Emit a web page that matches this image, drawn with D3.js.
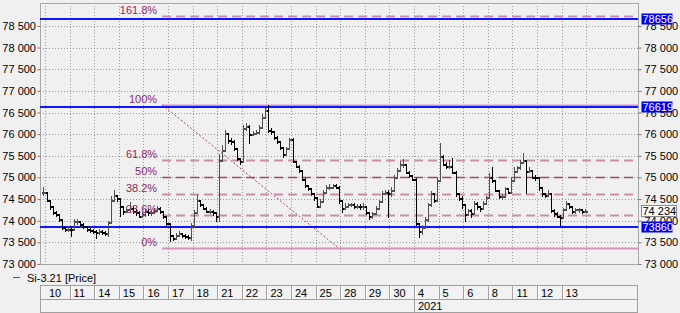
<!DOCTYPE html>
<html>
<head>
<meta charset="utf-8">
<script src="https://cdn.jsdelivr.net/npm/d3@7"></script>
<style>
  body { margin: 0; background: #f0f0f0; }
  svg { display: block; font-family: "Liberation Sans", Arial, sans-serif; }
</style>
</head>
<body>
<div id="chart"></div>
<script>
// trading days shown on the time axis (Dec 2020 .. Jan 2021)
const days = ['10', '11', '14', '15', '16', '17', '18', '21', '22', '23', '24', '25', '28', '29', '30',
  '4', '5', '6', '8', '11', '12', '13'];
const yearStartDay = 15;
const yearLabel = '2021';
const barsPerDay = 8;

// intraday bars, first one is the tail of the previous day
const close = [
  74675,
  74490, 74330, 74190, 74145, 74030, 73850, 73800, 73820,
  73800, 73985, 73985, 73915, 73870, 73800, 73775, 73755,
  73730, 73755, 73730, 73710, 73960, 74490, 74600, 74515,
  74330, 74215, 74260, 74305, 74215, 74190, 74120, 74145,
  74215, 74190, 74190, 74240, 74305, 74215, 74100, 73940,
  73660, 73590, 73660, 73710, 73660, 73640, 73615, 73900,
  74190, 74490, 74375, 74305, 74215, 74215, 74190, 74120,
  75410, 75640, 76035, 75870, 75850, 75690, 75460, 75370,
  76150, 76195, 76010, 76035, 76058, 76170, 76400, 76565,
  76100, 76080, 75940, 75850, 75710, 75530, 75670, 75895,
  75390, 75275, 75180, 74975, 74815, 74745, 74650, 74540,
  74350, 74445, 74675, 74770, 74790, 74815, 74790, 74490,
  74305, 74350, 74375, 74375, 74350, 74350, 74330, 74330,
  74190, 74120, 74170, 74305, 74445, 74650, 74675, 74630,
  74720, 75020, 75180, 75300, 75320, 75135, 75045, 74975,
  73940, 73755, 73845, 74030, 74375, 74630, 74490, 74950,
  75505, 75320, 75275, 75275, 75135, 74630, 74515, 74375,
  74145, 74240, 74170, 74420, 74330, 74285, 74420, 74540,
  75000, 74950, 74720, 74560, 74560, 74745, 74675, 74950,
  75160, 75230, 75365, 75410, 75160, 75180, 75020, 75000,
  74770, 74630, 74605, 74630, 74240, 74170, 74120, 74075,
  74260, 74400, 74330, 74215, 74260, 74260, 74215, 74234
];
const high = [
  74790,
  74600, 74450, 74330, 74230, 74150, 74030, 73880, 73870,
  73850, 74050, 74030, 73990, 73940, 73880, 73830, 73800,
  73780, 73800, 73790, 73760, 74000, 74560, 74700, 74600,
  74520, 74330, 74320, 74440, 74330, 74260, 74220, 74190,
  74260, 74260, 74240, 74300, 74350, 74310, 74220, 74100,
  73940, 73680, 73720, 73760, 73720, 73690, 73670, 73950,
  74250, 74600, 74490, 74380, 74310, 74260, 74240, 74190,
  75530, 75750, 76100, 76030, 75900, 75860, 75690, 75460,
  76200, 76250, 76200, 76080, 76100, 76220, 76460, 76600,
  76670, 76150, 76080, 75950, 75850, 75710, 75710, 75920,
  75900, 75390, 75280, 75180, 74980, 74820, 74750, 74650,
  74540, 74500, 74720, 74820, 74840, 74850, 74840, 74800,
  74490, 74400, 74420, 74420, 74400, 74390, 74380, 74400,
  74330, 74200, 74210, 74330, 74490, 74680, 74720, 74700,
  74780, 75060, 75220, 75380, 75420, 75320, 75140, 75050,
  74980, 73940, 73900, 74080, 74400, 74680, 74640, 75000,
  75800, 75520, 75350, 75400, 75460, 75140, 74640, 74560,
  74380, 74280, 74260, 74460, 74430, 74340, 74450, 74580,
  75100, 75230, 74950, 74720, 74620, 74790, 74760, 75000,
  75230, 75260, 75400, 75570, 75410, 75230, 75180, 75060,
  75000, 74770, 74650, 74700, 74630, 74260, 74190, 74140,
  74300, 74450, 74420, 74340, 74300, 74300, 74270, 74280
];
const low = [
  74600,
  74450, 74280, 74150, 74100, 73990, 73820, 73760, 73770,
  73640, 73800, 73920, 73870, 73830, 73760, 73730, 73710,
  73610, 73700, 73690, 73660, 73640, 73960, 74500, 74450,
  74100, 74150, 74190, 74230, 74170, 74140, 74080, 74080,
  74120, 74130, 74140, 74170, 74220, 74170, 74060, 73900,
  73530, 73550, 73580, 73640, 73620, 73600, 73580, 73560,
  73900, 74190, 74330, 74260, 74190, 74170, 74140, 73990,
  74000, 75400, 75640, 75800, 75780, 75640, 75410, 75300,
  75370, 76100, 75800, 75980, 76000, 76040, 76170, 76400,
  76050, 76000, 75880, 75800, 75650, 75480, 75520, 75650,
  75350, 75230, 75130, 74930, 74770, 74700, 74600, 74490,
  74310, 74330, 74440, 74680, 74740, 74760, 74750, 74420,
  74190, 74280, 74320, 74330, 74300, 74300, 74280, 74280,
  74150, 74030, 74060, 74160, 74300, 74440, 74620, 74080,
  74560, 74720, 75000, 75150, 75240, 75100, 75000, 74930,
  73900, 73620, 73700, 73840, 74000, 74350, 74440, 74490,
  74950, 75280, 75220, 75220, 75100, 74580, 74470, 74300,
  73990, 74140, 74080, 74150, 74280, 74230, 74260, 74400,
  74540, 74900, 74680, 74520, 74500, 74540, 74630, 74650,
  74950, 75130, 75200, 75350, 74650, 75130, 74980, 74950,
  74720, 74580, 74540, 74580, 74190, 74120, 74080, 73910,
  74060, 74260, 74290, 74180, 74170, 74200, 74180, 74200
];

const priceTicks = [73000, 73500, 74000, 74500, 75000, 75500, 76000, 76500, 77000, 77500, 78000, 78500];

// fibonacci retracement drawn between two points (day position, price)
const fibLevels = [0, 23.6, 38.2, 50, 61.8, 100, 161.8];
const fibStartDay = 4.76, fibStartPrice = 76680;
const fibEndDay = 11.95, fibEndPrice = 73360;

// horizontal levels with labels on the price axis
const levelLines = [78656, 76619, 73860];
const lastPrice = 74234;
const seriesName = 'Si-3.21 [Price]';

const W = 680, H = 313;
const plot = {left: 40, right: 638, top: 3, bottom: 264};

const svg = d3.select('#chart').append('svg')
  .attr('width', W)
  .attr('height', H);

const x = d3.scaleLinear()
  .domain([0, days.length])
  .range([45, 45 + days.length * 24.6]);
const y = d3.scaleLinear()
  .domain([73000, 79030])
  .range([plot.bottom, plot.top]);

const fmt = d3.formatLocale({decimal: '.', thousands: ' ', grouping: [3], currency: ['', '']}).format(',');

svg.append('clipPath').attr('id', 'clip')
  .append('rect')
    .attr('x', plot.left).attr('y', plot.top)
    .attr('width', plot.right - plot.left).attr('height', plot.bottom - plot.top);

// grid
const grid = svg.append('g')
  .attr('stroke', '#9a9a9a')
  .attr('stroke-dasharray', '1,2')
  .attr('shape-rendering', 'crispEdges');
grid.selectAll('.hg')
  .data(priceTicks.slice(1))
  .enter().append('line')
    .attr('x1', plot.left).attr('x2', plot.right)
    .attr('y1', d => Math.round(y(d)) + 0.5).attr('y2', d => Math.round(y(d)) + 0.5);
grid.selectAll('.vg')
  .data(d3.range(0, days.length + 1))
  .enter().append('line')
    .attr('x1', d => Math.round(x(d)) + 0.5).attr('x2', d => Math.round(x(d)) + 0.5)
    .attr('y1', plot.top).attr('y2', plot.bottom);

// plot border
svg.append('rect')
  .attr('x', plot.left + 0.5).attr('y', plot.top + 0.5)
  .attr('width', plot.right - plot.left).attr('height', plot.bottom - plot.top)
  .attr('fill', 'none')
  .attr('stroke', '#a8a8a8');

// price axes
const leftAxis = d3.axisLeft(y).tickValues(priceTicks).tickSize(3).tickFormat(fmt);
const rightAxis = d3.axisRight(y).tickValues(priceTicks).tickSize(3).tickFormat(fmt);
[[leftAxis, plot.left], [rightAxis, plot.right]].forEach(([ax, px]) => {
  const g = svg.append('g')
    .attr('transform', 'translate(' + (px + 0.5) + ',0)')
    .call(ax);
  g.select('.domain').remove();
  g.selectAll('line').attr('stroke', '#777');
  g.selectAll('text')
    .attr('fill', '#000')
    .style('font-size', '11px')
    .style('font-family', '"Liberation Sans", Arial, sans-serif');
});
svg.selectAll('g text').filter(function() { return this.getAttribute('x') < 0; }).attr('x', -4.5);

const chart = svg.append('g').attr('clip-path', 'url(#clip)');

// fibonacci levels
const fibRange = fibStartPrice - fibEndPrice;
const fibX0 = x(fibStartDay);
const fibStyle = lvl => {
  if (lvl === 0 || lvl === 100) return {c: '#d395b3', w: 2, dash: null};
  if (lvl === 50) return {c: '#a3466f', w: 1.3, dash: '9,5'};
  return {c: '#c98daa', w: 2, dash: '9,5'};
};
fibLevels.forEach(lvl => {
  const v = fibEndPrice + fibRange * lvl / 100;
  const st = fibStyle(lvl);
  const yy = Math.round(y(v)) + 0.5;
  chart.append('line')
    .attr('x1', fibX0).attr('x2', plot.right)
    .attr('y1', yy).attr('y2', yy)
    .attr('stroke', st.c)
    .attr('stroke-width', st.w)
    .attr('stroke-dasharray', st.dash);
  svg.append('text')
    .attr('x', fibX0 - 5)
    .attr('y', yy - 2.5)
    .attr('text-anchor', 'end')
    .attr('fill', '#8e2a5c')
    .style('font-size', '11px')
    .text((lvl % 1 === 0 ? lvl : lvl.toFixed(1)) + '%');
});
chart.append('line')
  .attr('x1', x(fibStartDay)).attr('y1', y(fibStartPrice))
  .attr('x2', x(fibEndDay)).attr('y2', y(fibEndPrice))
  .attr('stroke', '#a8447a')
  .attr('stroke-width', 1)
  .attr('stroke-dasharray', '2,2');

// horizontal levels
chart.selectAll('.lvl')
  .data(levelLines)
  .enter().append('line')
    .attr('x1', plot.left).attr('x2', plot.right)
    .attr('y1', d => Math.round(y(d)))
    .attr('y2', d => Math.round(y(d)))
    .attr('stroke', '#1414ff')
    .attr('stroke-width', 2);

// OHLC bars, open taken from the previous bar's close
const bars = close.map((c, i) => ({
  k: i - 1,
  open: i > 0 ? close[i - 1] : c,
  close: c,
  high: high[i],
  low: low[i]
}));
const barX = d => Math.round(x((d.k + 0.5) / barsPerDay)) + 0.5;
const barG = chart.append('g').attr('shape-rendering', 'crispEdges');
const bar = barG.selectAll('g')
  .data(bars)
  .enter().append('g')
    .attr('stroke', d => d.close >= d.open ? '#505050' : '#000');
bar.append('line')
  .attr('x1', barX).attr('x2', barX)
  .attr('y1', d => Math.round(y(Math.max(d.high, d.open))))
  .attr('y2', d => Math.round(y(Math.min(d.low, d.open))) + 1);
bar.append('line')
  .attr('x1', d => barX(d) - 2).attr('x2', barX)
  .attr('y1', d => Math.round(y(d.open)) + 0.5).attr('y2', d => Math.round(y(d.open)) + 0.5)
  .attr('stroke-width', 2);
bar.append('line')
  .attr('x1', barX).attr('x2', d => barX(d) + 2)
  .attr('y1', d => Math.round(y(d.close)) + 0.5).attr('y2', d => Math.round(y(d.close)) + 0.5)
  .attr('stroke-width', 2);

// labels on the price axis
const tag = (v, label, blue) => {
  const yy = y(v);
  const g = svg.append('g');
  g.append('rect')
    .attr('x', plot.right + 3.5).attr('y', Math.round(yy - 6) + 0.5)
    .attr('width', blue ? 31 : 35).attr('height', 11)
    .attr('fill', blue ? '#0000f0' : '#fafafa')
    .attr('stroke', blue ? 'none' : '#8a8a8a');
  g.append('text')
    .attr('x', plot.right + 4.5).attr('y', yy + 4)
    .attr('fill', blue ? '#fff' : '#000')
    .style('font-size', '11px')
    .text(label);
};
levelLines.forEach(v => tag(v, String(v), true));
tag(lastPrice, fmt(lastPrice), false);

// legend
svg.append('line')
  .attr('x1', 13).attr('x2', 20).attr('y1', 277.5).attr('y2', 277.5)
  .attr('stroke', '#555');
svg.append('text')
  .attr('x', 27).attr('y', 281.5)
  .style('font-size', '11px')
  .text(seriesName);

// time axis
const ax = svg.append('g').attr('shape-rendering', 'crispEdges');
ax.append('rect')
  .attr('x', plot.left + 0.5).attr('y', 285.5)
  .attr('width', plot.right - plot.left - 1).attr('height', 27)
  .attr('fill', '#f2f2f2').attr('stroke', '#a0a0a0');
ax.append('line')
  .attr('x1', plot.left).attr('x2', plot.right - 1)
  .attr('y1', 299.5).attr('y2', 299.5)
  .attr('stroke', '#a0a0a0');
ax.selectAll('.sep')
  .data(d3.range(1, days.length))
  .enter().append('line')
    .attr('x1', d => Math.round(x(d)) + 0.5).attr('x2', d => Math.round(x(d)) + 0.5)
    .attr('y1', 286).attr('y2', 299)
    .attr('stroke', '#a0a0a0');
ax.selectAll('.sepw')
  .data(d3.range(1, days.length))
  .enter().append('line')
    .attr('x1', d => Math.round(x(d)) + 1.5).attr('x2', d => Math.round(x(d)) + 1.5)
    .attr('y1', 286).attr('y2', 299)
    .attr('stroke', '#fff');
ax.selectAll('.day')
  .data(days)
  .enter().append('text')
    .attr('x', (d, i) => x(i) + 4)
    .attr('y', 296.5)
    .style('font-size', '11px')
    .text(d => d);
ax.append('line')
  .attr('x1', Math.round(x(yearStartDay)) + 0.5).attr('x2', Math.round(x(yearStartDay)) + 0.5)
  .attr('y1', 300).attr('y2', 312)
  .attr('stroke', '#a0a0a0');
ax.append('text')
  .attr('x', x(yearStartDay) + 4)
  .attr('y', 309.5)
  .style('font-size', '11px')
  .text(yearLabel);
</script>
</body>
</html>
